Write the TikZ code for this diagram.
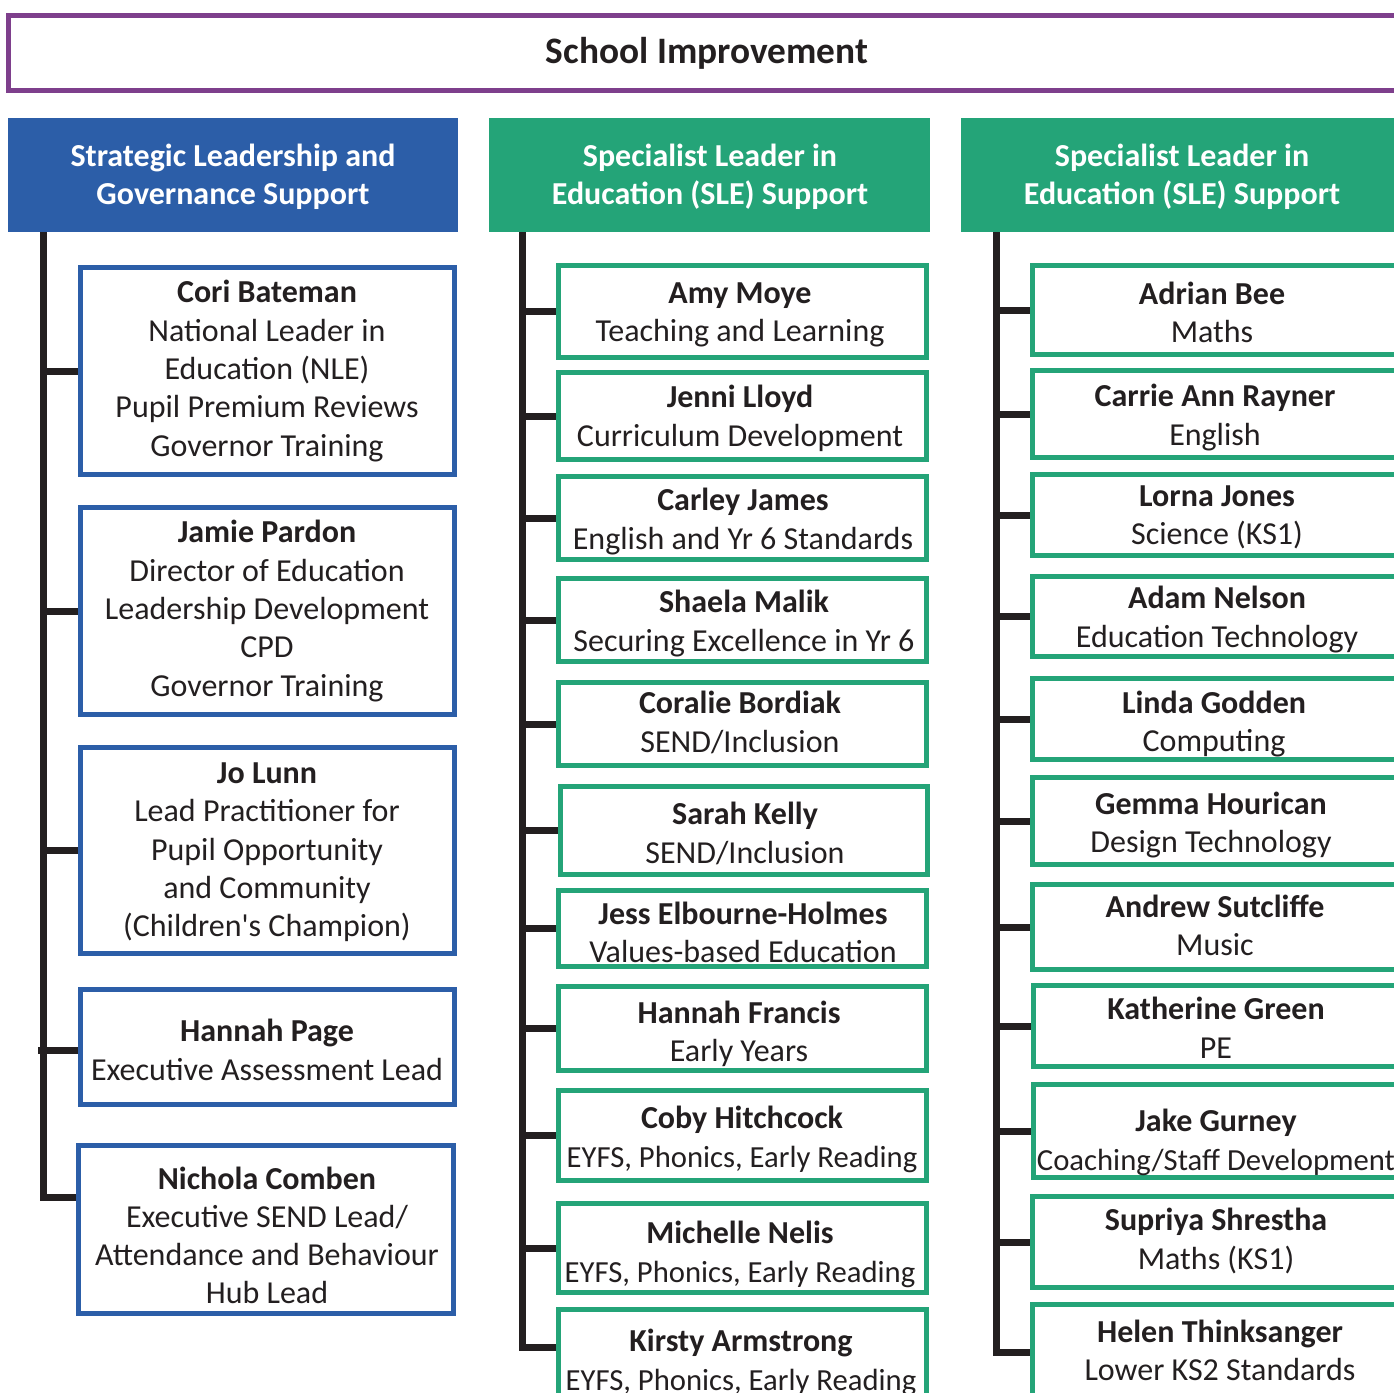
\documentclass[tikz,border=0pt]{standalone}
\usepackage{fontspec}
\setmainfont{Carlito}
\definecolor{purp}{RGB}{126,63,140}
\definecolor{sblue}{RGB}{44,94,168}
\definecolor{sgreen}{RGB}{36,164,120}
\definecolor{ink}{RGB}{35,31,32}
\tikzset{
  bbox/.style={draw=sblue, line width=3.75pt, inner sep=0pt, fill=white},
  gbox/.style={draw=sgreen, line width=3.75pt, inner sep=0pt, fill=white},
  txt/.style={align=center, inner sep=0pt, text=ink, font=\fontsize{24}{28.7}\selectfont,
    yshift=-3pt, execute at begin node=\strut, execute at end node=\strut},
  hdrtxt/.style={align=center, inner sep=0pt, text=white, font=\fontsize{24}{28.7}\selectfont\bfseries,
    yshift=-3pt, execute at begin node=\strut, execute at end node=\strut},
  spine/.style={draw=ink, line width=5.25pt},
}
\newcommand\tight[1]{{\fontsize{23}{28.7}\selectfont #1}}
\newcommand\pbox[9]{%
  \pgfmathsetmacro\bxc{(#3+#5)/2}%
  \pgfmathsetmacro\byc{(#4+#6)/2}%
  \pgfmathsetmacro\bw{(#5-#3-5)*0.75}%
  \pgfmathsetmacro\bh{(#6-#4-5)*0.75}%
  \node[#2, minimum width=\bw pt, minimum height=\bh pt] (#1) at (\bxc,\byc) {};
  \node[txt] (#1t) at (#7,#8) {#9};
}
\begin{document}
\begin{tikzpicture}[x=0.75pt, y=-0.75pt]
\useasboundingbox (0,0) rectangle (1394,1392);
\clip (0,0) rectangle (1394,1392);

% title bar
\node[draw=purp, line width=3.75pt, inner sep=0pt, minimum width=1050pt, minimum height=56.25pt] (top) at (708.5,53) {};
\node[inner sep=0pt, text=ink, font=\fontsize{28}{34}\selectfont\bfseries] (title) at (707,53) {School Improvement};

% headers
\node[fill=sblue, inner sep=0pt, minimum width=337.5pt, minimum height=85.5pt] (h1) at (233,175) {};
\node[hdrtxt] (h1t) at (233,176) {Strategic Leadership and\\Governance Support};
\node[fill=sgreen, inner sep=0pt, minimum width=330.75pt, minimum height=85.5pt] (h2) at (709.5,175) {};
\node[hdrtxt] (h2t) at (710,176) {Specialist Leader in\\Education (SLE) Support};
\node[fill=sgreen, inner sep=0pt, minimum width=344.25pt, minimum height=85.5pt] (h3) at (1190.5,175) {};
\node[hdrtxt] (h3t) at (1182,176) {Specialist Leader in\\Education (SLE) Support};

% column 1
\pbox{c1}{bbox}{78}{265}{457}{477}{267}{370}{\textbf{Cori Bateman}\\National Leader in\\Education (NLE)\\Pupil Premium Reviews\\Governor Training}
\pbox{c2}{bbox}{78}{505}{457}{717}{267}{610}{\textbf{Jamie Pardon}\\Director of Education\\Leadership Development\\CPD\\Governor Training}
\pbox{c3}{bbox}{78}{745}{457}{956}{267}{851.5}{\textbf{Jo Lunn}\\Lead Practitioner for\\Pupil Opportunity\\and Community\\(Children\textquotesingle s Champion)}
\pbox{c4}{bbox}{78}{987}{457}{1107}{267}{1051.5}{\textbf{Hannah Page}\\Executive Assessment Lead}
\pbox{c5}{bbox}{76}{1143}{456}{1316}{267}{1237}{\textbf{Nichola Comben}\\Executive SEND Lead/\\Attendance and Behaviour\\Hub Lead}

% column 2
\pbox{d1}{gbox}{556}{263}{929}{360}{740}{314}{\textbf{Amy Moye}\\Teaching and Learning}
\pbox{d2}{gbox}{556}{370}{929}{462}{740}{417.5}{\textbf{Jenni Lloyd}\\Curriculum Development}
\pbox{d3}{gbox}{556}{474}{929}{562}{743}{520.5}{\textbf{Carley James}\\English and Yr 6 Standards}
\pbox{d4}{gbox}{556}{576}{929}{664}{744}{622.5}{\textbf{Shaela Malik}\\Securing Excellence in Yr 6}
\pbox{d5}{gbox}{556}{680}{929}{768}{740}{723.5}{\textbf{Coralie Bordiak}\\SEND/Inclusion}
\pbox{d6}{gbox}{558}{784}{930}{877}{745}{834.5}{\textbf{Sarah Kelly}\\SEND/Inclusion}
\pbox{d7}{gbox}{556}{888}{929}{969}{743}{934}{\textbf{Jess Elbourne-Holmes}\\Values-based Education}
\pbox{d8}{gbox}{556}{984}{929}{1073}{739}{1033}{\textbf{Hannah Francis}\\Early Years}
\pbox{d9}{gbox}{556}{1088}{929}{1183}{742}{1138.5}{\textbf{Coby Hitchcock}\\\tight{EYFS, Phonics, Early Reading}}
\pbox{d10}{gbox}{556}{1201}{929}{1295}{740}{1253.5}{\textbf{Michelle Nelis}\\\tight{EYFS, Phonics, Early Reading}}
\pbox{d11}{gbox}{556}{1307}{929}{1413}{741}{1361.5}{\textbf{Kirsty Armstrong}\\\tight{EYFS, Phonics, Early Reading}}

% column 3
\pbox{e1}{gbox}{1030}{263}{1400}{357}{1212}{314}{\textbf{Adrian Bee}\\Maths}
\pbox{e2}{gbox}{1030}{368}{1400}{460}{1215}{416.5}{\textbf{Carrie Ann Rayner}\\English}
\pbox{e3}{gbox}{1030}{472}{1400}{558}{1217}{516.5}{\textbf{Lorna Jones}\\Science (KS1)}
\pbox{e4}{gbox}{1030}{574}{1400}{659}{1217}{618.5}{\textbf{Adam Nelson}\\Education Technology}
\pbox{e5}{gbox}{1030}{676}{1400}{762}{1214}{723}{\textbf{Linda Godden}\\Computing}
\pbox{e6}{gbox}{1030}{775}{1400}{867}{1211}{824}{\textbf{Gemma Hourican}\\Design Technology}
\pbox{e7}{gbox}{1030}{882}{1400}{972}{1215}{927}{\textbf{Andrew Sutcliffe}\\Music}
\pbox{e8}{gbox}{1031}{983}{1400}{1069}{1216}{1029.5}{\textbf{Katherine Green}\\PE}
\pbox{e9}{gbox}{1031}{1082}{1400}{1180}{1216}{1141.5}{\textbf{Jake Gurney}\\\tight{Coaching/Staff Development}}
\pbox{e10}{gbox}{1030}{1194}{1400}{1290}{1216}{1240.5}{\textbf{Supriya Shrestha}\\Maths (KS1)}
\pbox{e11}{gbox}{1030}{1302}{1400}{1399}{1220}{1352}{\textbf{Helen Thinksanger}\\Lower KS2 Standards}

% spines
\coordinate (s1) at (43,0);
\coordinate (s2) at (522,0);
\coordinate (s3) at (996,0);

\draw[spine] (h1.south -| s1) -- (43,1197) -- (c5.west |- 0,1197);
\foreach \b in {c1,c2,c3} \draw[spine] (s1 |- \b.west) -- (\b.west);
\draw[spine] (38,1050) -- (c4.west |- 0,1050);

\draw[spine] (h2.south -| s2) -- (522,1347) -- (d11.west |- 0,1347);
\foreach \b in {d1,d2,d3,d4,d5,d6,d7,d8,d9,d10} \draw[spine] (s2 |- \b.west) -- (\b.west);

\draw[spine] (h3.south -| s3) -- (996,1352) -- (e11.west |- 0,1352);
\foreach \b in {e1,e2,e3,e4,e5,e6,e7,e8,e9,e10} \draw[spine] (s3 |- \b.west) -- (\b.west);
\end{tikzpicture}
\end{document}
